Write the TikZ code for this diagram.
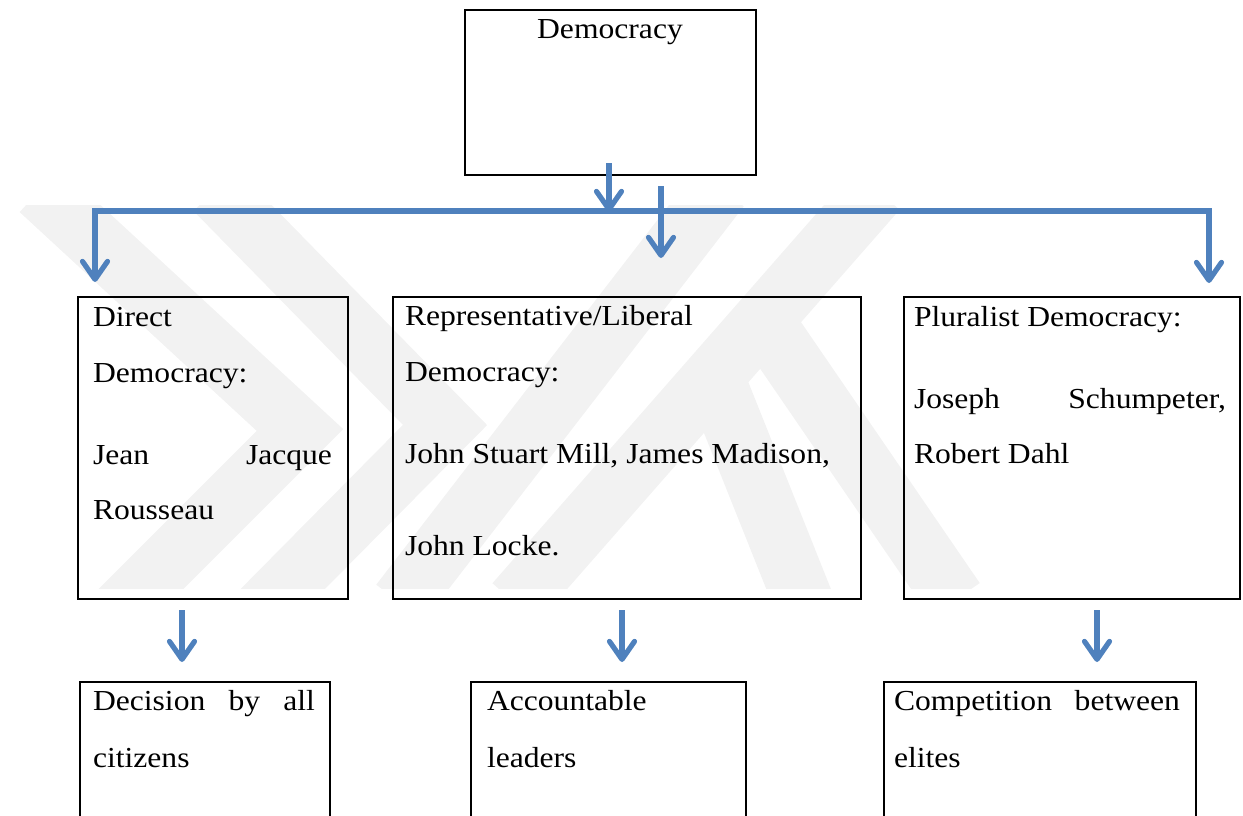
\documentclass[tikz,border=0pt]{standalone}
\usepackage{fontspec}
\setmainfont{Liberation Serif}[FakeStretch=1.09]
\usetikzlibrary{arrows.meta}
\definecolor{wordblue}{RGB}{79,129,189}
\tikzset{
  box/.style={draw=black, line width=1pt, rectangle, inner sep=0pt, outer sep=0pt, anchor=north west},
  thinbox/.style={draw=black, line width=0.6pt, rectangle, inner sep=0pt, outer sep=0pt, anchor=north west},
  txt/.style={inner sep=0pt, outer sep=0pt, anchor=base west, font=\fontsize{14.5}{17}\selectfont},
  barrow/.style={draw=wordblue, line width=2.6pt, -{Straight Barb[length=9pt,width=12.5pt,round]}},
  bline/.style={draw=wordblue, line width=2.6pt, {Straight Barb[length=9pt,width=12.5pt,round]}-{Straight Barb[length=9pt,width=12.5pt,round]}},
  shadowline/.style={draw=black!15, line width=2.4pt},
  wmark/.style={draw=black!5, line width=30pt, line join=miter}
}
\begin{document}
\begin{tikzpicture}[x=0.5pt,y=-0.5pt]
\useasboundingbox (0,0) rectangle (1243,815);
\clip (0,0) rectangle (1243,815);
% watermark
\begin{scope}
\clip (0,205) rectangle (1243,588);
\draw[wmark] (40,190) -- (300,430) -- (120,610);
\draw[wmark] (215,190) -- (445,425) -- (262,610);
\draw[wmark] (400,603) -- (720,188);
\draw[wmark] (515,603) -- (877,190);
\draw[wmark] (712,372) -- (803,600);
\draw[wmark] (770,330) -- (955,600);
\end{scope}
% boxes
\node[box, minimum width=145.5pt, minimum height=82.5pt] (demo) at (465,10) {};
\node[box, minimum width=135pt, minimum height=151pt] (direct) at (78,297) {};
\node[box, minimum width=234pt, minimum height=151pt] (repr) at (393,297) {};
\node[box, minimum width=168pt, minimum height=151pt] (plur) at (904,297) {};
\node[thinbox, minimum width=125pt, minimum height=80pt] (dec) at (80,682) {};
\node[thinbox, minimum width=137.5pt, minimum height=80pt] (acc) at (471,682) {};
\node[thinbox, minimum width=156pt, minimum height=80pt] (comp) at (884,682) {};
% texts
\node[txt, anchor=base] (tdemo) at (610,38) {Democracy};
\node[txt] (td1) at (93,326) {Direct};
\node[txt] (td2) at (93,382) {Democracy:};
\node[txt] (td3) at (93,464) {\makebox[119.5pt][s]{Jean Jacque}};
\node[txt] (td4) at (93,519) {Rousseau};
\node[txt] (tr1) at (405,325) {Representative/Liberal};
\node[txt] (tr2) at (405,381) {Democracy:};
\node[txt] (tr3) at (405,463) {John Stuart Mill, James Madison,};
\node[txt] (tr4) at (405,555) {John Locke.};
\node[txt] (tp1) at (914,326) {Pluralist Democracy:};
\node[txt] (tp2) at (914,408) {\makebox[156pt][s]{Joseph Schumpeter,}};
\node[txt] (tp3) at (914,463) {Robert Dahl};
\node[txt] (tc1) at (93,710) {\makebox[111pt][s]{Decision by all}};
\node[txt] (tc2) at (93,767) {citizens};
\node[txt] (ta1) at (487,710) {Accountable};
\node[txt] (ta2) at (487,767) {leaders};
\node[txt] (tm1) at (894,710) {\makebox[143pt][s]{Competition between}};
\node[txt] (tm2) at (894,767) {elites};
% connector points
\coordinate (a1s) at (609,163);
\coordinate (hub) at (609,212);
\coordinate (a2s) at (661,186);
\coordinate (a2e) at (661,258);
\coordinate (lc) at (95,211);
\coordinate (lt) at (95,282);
\coordinate (rc) at (1209,211);
\coordinate (rt) at (1209,283);
\coordinate (b1s) at (182,610);
\coordinate (b1e) at (182,662);
\coordinate (b2s) at (622,610);
\coordinate (b2e) at (622,662);
\coordinate (b3s) at (1097,610);
\coordinate (b3e) at (1097,662);
% shadow of the bar
\draw[shadowline, yshift=-2pt] (lc) -- (rc);
% arrows
\draw[bline] (lt) -- (lc) -- (rc) -- (rt);
\draw[barrow] (a1s) -- (hub);
\draw[barrow] (a2s) -- (a2e);
\draw[barrow] (b1s) -- (b1e);
\draw[barrow] (b2s) -- (b2e);
\draw[barrow] (b3s) -- (b3e);
\end{tikzpicture}
\end{document}
